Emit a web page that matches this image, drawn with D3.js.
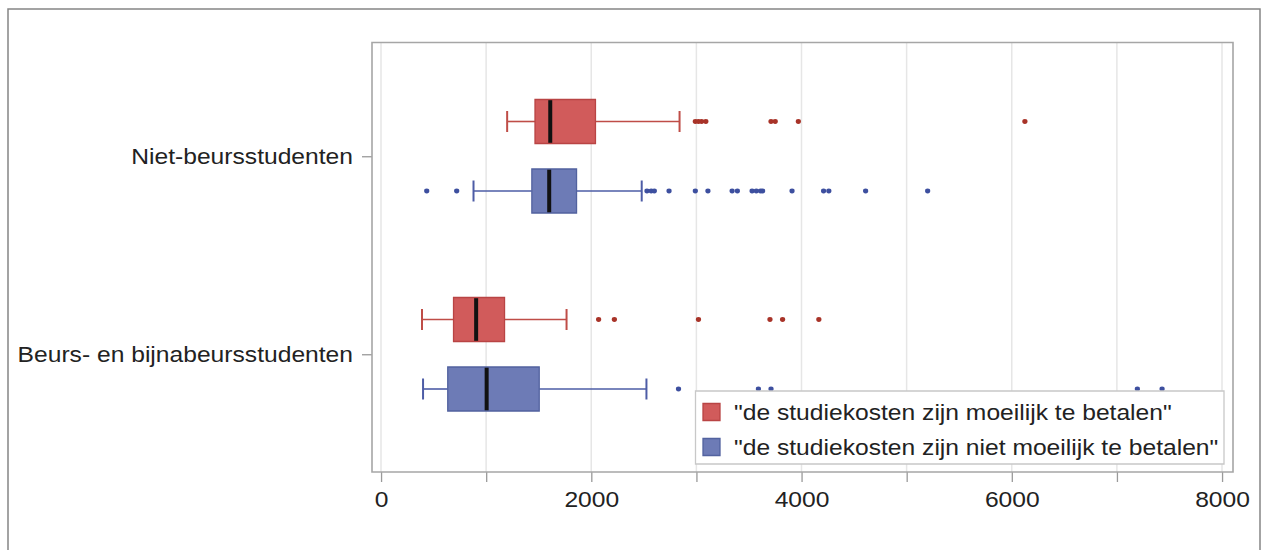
<!DOCTYPE html>
<html>
<head>
<meta charset="utf-8">
<script src="https://cdn.jsdelivr.net/npm/d3@7"></script>
<style>
  html, body { margin: 0; padding: 0; background: #fff; }
  svg { display: block; }
  text { font-family: "Liberation Sans", Arial, sans-serif; }
</style>
</head>
<body>
<svg id="chart"></svg>
<script>
// ---------------- data ----------------
const categories = ["Niet-beursstudenten", "Beurs- en bijnabeursstudenten"];
const seriesNames = ['"de studiekosten zijn moeilijk te betalen"', '"de studiekosten zijn niet moeilijk te betalen"'];
// [whisker low, Q1, median, Q3, whisker high] per category
const moeilijkStats = [[1200, 1465, 1610, 2040, 2840], [390, 690, 905, 1175, 1765]];
const nietMoeilijkStats = [[880, 1435, 1600, 1860, 2480], [400, 635, 1005, 1505, 2525]];
const moeilijkOutliers = [
  [2990, 3020, 3050, 3090, 3710, 3750, 3970, 6125],
  [2070, 2220, 3020, 3700, 3820, 4165]
];
const nietMoeilijkOutliers = [
  [435, 720, 2530, 2570, 2600, 2740, 2990, 3110, 3340, 3390, 3530, 3570, 3610, 3630, 3910, 4210, 4260, 4610, 5200],
  [2830, 3590, 3710, 7195, 7430]
];
const xTickLabels = [0, 2000, 4000, 6000, 8000];
const xGridValues = [0, 1000, 2000, 3000, 4000, 5000, 6000, 7000, 8000];

// ---------------- layout ----------------
const W = 1262, H = 550;
const SX = 1.12; // horizontal stretch of the original image
const VW = W / SX;
const px = v => v / SX; // screen x -> viewBox x

const frame = { left: px(372), right: px(1233), top: 42.5, bottom: 472 };

const svg = d3.select("#chart")
  .attr("width", W).attr("height", H)
  .attr("viewBox", `0 0 ${VW} ${H}`)
  .attr("preserveAspectRatio", "none");

const x = d3.scaleLinear().domain([0, 8000]).range([px(381), px(1222)]);
const y = d3.scalePoint().domain(categories).range([frame.top + 113.75, frame.bottom - 117.75]);
const sub = d3.scalePoint().domain(seriesNames).range([-34.75, 34.75]);

const boxFill = ["#d15b5b", "#6d7bb6"];
const boxStroke = ["#b94444", "#52629f"];
const whiskerColor = ["#bf4d47", "#4d5ca6"];
const dotColor = ["#a83328", "#3d4f9f"];

const series = [
  { name: seriesNames[0], stats: moeilijkStats, outliers: moeilijkOutliers, i: 0 },
  { name: seriesNames[1], stats: nietMoeilijkStats, outliers: nietMoeilijkOutliers, i: 1 }
];

// outer border
svg.append("rect")
  .attr("x", px(8)).attr("y", 9).attr("width", px(1260) - px(8)).attr("height", 600)
  .attr("fill", "none").attr("stroke", "#858585").attr("stroke-width", 1.5)
  .attr("vector-effect", "non-scaling-stroke");

// gridlines
svg.append("g").selectAll("line").data(xGridValues).join("line")
  .attr("x1", d => x(d)).attr("x2", d => x(d))
  .attr("y1", frame.top).attr("y2", frame.bottom)
  .attr("stroke", "#e6e6e6").attr("stroke-width", 1.5)
  .attr("vector-effect", "non-scaling-stroke");

// x axis
const xAxis = d3.axisBottom(x).tickValues(xGridValues).tickSize(10).tickPadding(9)
  .tickFormat(d => xTickLabels.includes(d) ? String(d) : "");
const gx = svg.append("g").attr("transform", `translate(0,${frame.bottom})`).call(xAxis);
gx.select(".domain").remove();
gx.selectAll(".tick line").attr("stroke", "#9a9a9a").attr("stroke-width", 1.3).attr("vector-effect", "non-scaling-stroke");
gx.selectAll(".tick text").attr("font-size", 22).attr("fill", "#222")
  .attr("font-family", '"Liberation Sans", Arial, sans-serif').attr("dy", "0.71em");

// y axis
const yAxis = d3.axisLeft(y).tickSize(px(10)).tickPadding(px(9));
const gy = svg.append("g").attr("transform", `translate(${frame.left},0)`).call(yAxis);
gy.select(".domain").remove();
gy.selectAll(".tick line").attr("stroke", "#9a9a9a").attr("stroke-width", 1.3).attr("vector-effect", "non-scaling-stroke");
gy.selectAll(".tick text").attr("font-size", 22).attr("fill", "#222")
  .attr("font-family", '"Liberation Sans", Arial, sans-serif');

// boxes
const boxH = 44, capH = 21;
series.forEach(s => {
  const g = svg.append("g");
  categories.forEach((c, ci) => {
    const [lo, q1, med, q3, hi] = s.stats[ci];
    const cy = y(c) + sub(s.name);
    // whisker lines
    g.append("line").attr("x1", x(lo)).attr("x2", x(q1)).attr("y1", cy).attr("y2", cy)
      .attr("stroke", whiskerColor[s.i]).attr("stroke-width", 1.6);
    g.append("line").attr("x1", x(q3)).attr("x2", x(hi)).attr("y1", cy).attr("y2", cy)
      .attr("stroke", whiskerColor[s.i]).attr("stroke-width", 1.6);
    [lo, hi].forEach(v => g.append("line")
      .attr("x1", x(v)).attr("x2", x(v)).attr("y1", cy - capH / 2).attr("y2", cy + capH / 2)
      .attr("stroke", whiskerColor[s.i]).attr("stroke-width", 2).attr("vector-effect", "non-scaling-stroke"));
    // box
    g.append("rect").attr("x", x(q1)).attr("y", cy - boxH / 2)
      .attr("width", x(q3) - x(q1)).attr("height", boxH)
      .attr("fill", boxFill[s.i]).attr("stroke", boxStroke[s.i]).attr("stroke-width", 1.3)
      .attr("vector-effect", "non-scaling-stroke");
    // median
    g.append("line").attr("x1", x(med)).attr("x2", x(med))
      .attr("y1", cy - boxH / 2 + 0.7).attr("y2", cy + boxH / 2 - 0.7)
      .attr("stroke", "#111").attr("stroke-width", px(4));
    // outliers
    g.selectAll(null).data(s.outliers[ci]).join("ellipse")
      .attr("cx", d => x(d)).attr("cy", cy)
      .attr("rx", px(2.6)).attr("ry", 2.4)
      .attr("fill", dotColor[s.i]);
  });
});

// plot frame
svg.append("rect")
  .attr("x", frame.left).attr("y", frame.top)
  .attr("width", frame.right - frame.left).attr("height", frame.bottom - frame.top)
  .attr("fill", "none").attr("stroke", "#a6a6a6").attr("stroke-width", 1.6)
  .attr("vector-effect", "non-scaling-stroke");

// legend
const lg = svg.append("g");
lg.append("rect")
  .attr("x", px(695.5)).attr("y", 391)
  .attr("width", px(1224) - px(695.5)).attr("height", 73)
  .attr("fill", "#fff").attr("stroke", "#c8c8c8").attr("stroke-width", 1.3)
  .attr("vector-effect", "non-scaling-stroke");
const legendRows = d3.scalePoint().domain(seriesNames).range([412, 447]);
seriesNames.forEach((n, i) => {
  const cy = legendRows(n);
  lg.append("rect").attr("x", px(703)).attr("y", cy - 8.5)
    .attr("width", px(17)).attr("height", 17)
    .attr("fill", boxFill[i]).attr("stroke", boxStroke[i]).attr("stroke-width", 1.3)
    .attr("vector-effect", "non-scaling-stroke");
  lg.append("text").attr("x", px(734)).attr("y", cy).attr("dy", "0.36em")
    .attr("font-size", 22).attr("fill", "#222").text(n);
});
</script>
</body>
</html>
